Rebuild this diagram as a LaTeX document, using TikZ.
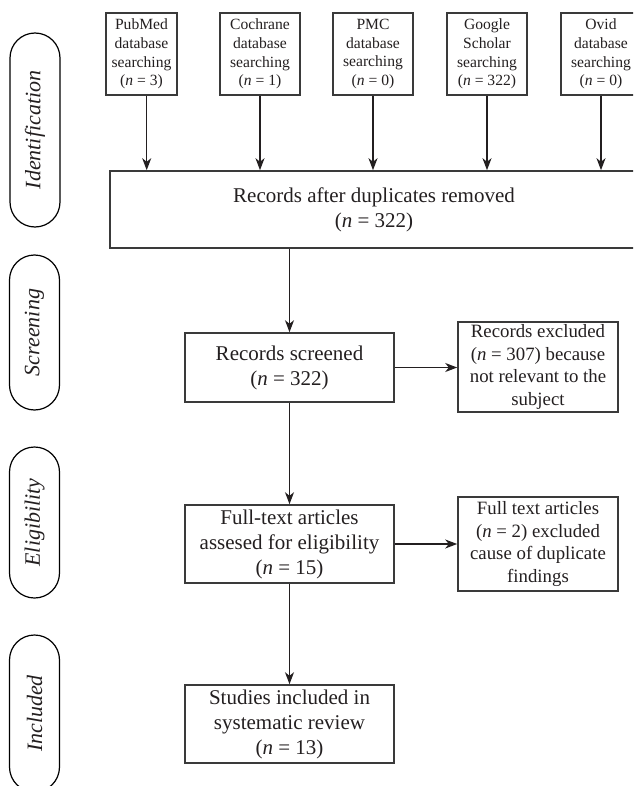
\documentclass[tikz,border=0pt]{standalone}
\usepackage{fontspec}
\setmainfont{Liberation Serif}
\usetikzlibrary{arrows.meta}
\definecolor{ink}{HTML}{231F20}
\definecolor{boxline}{HTML}{3A3A3A}
\tikzset{
  flowbox/.style={draw=boxline,line width=0.8pt,align=center,inner sep=0pt,text=ink},
  srcbox/.style={flowbox,minimum width=40pt,minimum height=41pt,font=\fontsize{7.8}{9.3}\selectfont},
  mainbox/.style={flowbox,minimum width=104.5pt,font=\fontsize{10.5}{12.5}\selectfont},
  sidebox/.style={flowbox,minimum width=80pt,font=\fontsize{9.4}{11.3}\selectfont},
  stage/.style={draw=black,line width=0.6pt,rounded corners=12.5pt,rotate=90,
    minimum height=25pt,inner sep=0pt,text=ink,font=\fontsize{11}{13}\selectfont\itshape},
  arr/.style={draw=ink,line width=0.7pt,-{Stealth[length=6pt,width=4.5pt,inset=1.8pt]}}
}
\begin{document}
\begin{tikzpicture}[x=0.5pt,y=-0.5pt]
  \useasboundingbox (0,0) rectangle (633,786);
  \clip (0,0) rectangle (633,786);
  \node[stage,minimum width=97pt] (idn) at (35,130) {Identification};
  \node[stage,minimum width=77.5pt] (scrn) at (34.5,332.5) {Screening};
  \node[stage,minimum width=75.5pt] (elig) at (34.5,522.5) {Eligibility};
  \node[stage,minimum width=78.5pt] (incn) at (34.5,713.5) {Included};
  \node[srcbox,minimum width=35.5pt] (pubmed) at (141.5,54) {PubMed\\database\\searching\\(\textit{n} = 3)};
  \node[srcbox] (cochrane) at (260,54) {Cochrane\\database\\searching\\(\textit{n} = 1)};
  \node[srcbox] (pmc) at (373,54) {PMC\\database\\searching\\(\textit{n} = 0)};
  \node[srcbox] (scholar) at (487,54) {Google\\Scholar\\searching\\(\textit{n} = 322)};
  \node[srcbox] (ovid) at (601,54) {Ovid\\database\\searching\\(\textit{n} = 0)};
  \node[mainbox,minimum width=264pt,minimum height=38.5pt] (dup) at (374,209.5)
    {Records after duplicates removed\\(\textit{n} = 322)};
  \node[mainbox,minimum height=34.5pt] (scr) at (289.5,367.5) {Records screened\\(\textit{n} = 322)};
  \node[sidebox,minimum height=45pt] (exc1) at (538,367)
    {Records excluded\\(\textit{n} = 307) because\\not relevant to the\\subject};
  \node[mainbox,minimum height=39pt] (full) at (289.5,544)
    {Full-text articles\\assesed for eligibility\\(\textit{n} = 15)};
  \node[sidebox,minimum height=47pt] (exc2) at (538,544)
    {Full text articles\\(\textit{n} = 2) excluded\\cause of duplicate\\findings};
  \node[mainbox,minimum height=39pt] (incl) at (289.5,724)
    {Studies included in\\systematic review\\(\textit{n} = 13)};
  \draw[arr] ([xshift=2.6pt]pubmed.south) -- ([xshift=2.6pt]pubmed.south |- dup.north);
  \foreach \src in {cochrane,pmc,scholar,ovid} {
    \draw[arr] (\src.south) -- (\src.south |- dup.north);
  }
  \draw[arr] (scr.north |- dup.south) -- (scr.north);
  \draw[arr] (scr.east) -- (scr.east -| exc1.west);
  \draw[arr] (scr.south) -- (full.north);
  \draw[arr] (full.east) -- (full.east -| exc2.west);
  \draw[arr] (full.south) -- (incl.north);
\end{tikzpicture}
\end{document}
